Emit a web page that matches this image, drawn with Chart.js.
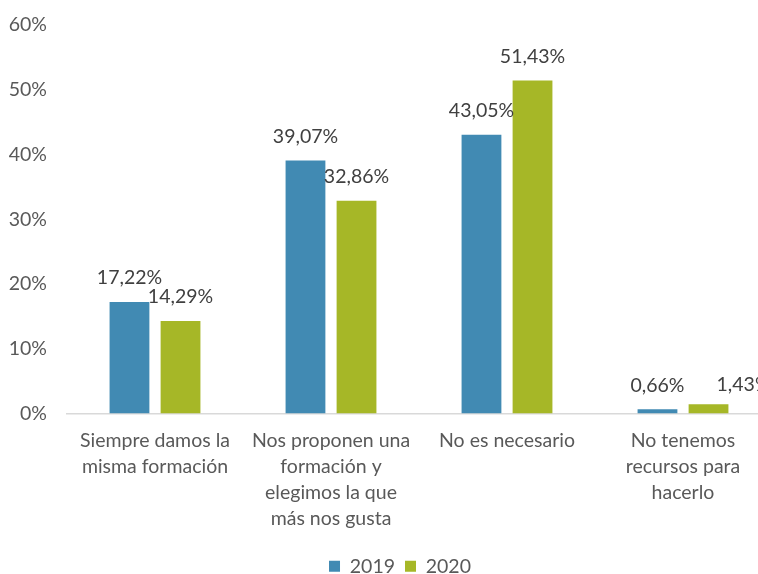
<!DOCTYPE html>
<html>
<head>
<meta charset="utf-8">
<script src="https://cdn.jsdelivr.net/npm/chart.js@4/dist/chart.umd.min.js"></script>
<style>
  html, body { margin: 0; padding: 0; background: #fff; overflow: hidden; }
  #wrap { width: 800px; height: 586px; }
</style>
</head>
<body>
<div id="wrap"><canvas id="chart"></canvas></div>
<script>
// data
const categories = [
    ['Siempre damos la', 'misma formación'],
    ['Nos proponen una', 'formación y', 'elegimos la que', 'más nos gusta'],
    'No es necesario',
    ['No tenemos', 'recursos para', 'hacerlo']
];
const seriesNames = ['2019', '2020'];
const values2019 = [17.22, 39.07, 43.05, 0.66];
const values2020 = [14.29, 32.86, 51.43, 1.43];
const yTicks = [0, 10, 20, 30, 40, 50, 60];

const FONT = 'Lato, "Open Sans", "Noto Sans", sans-serif';
const fmt = v => v.toFixed(2).replace('.', ',') + '%';

// draws the value above each bar
const barLabels = {
    id: 'barLabels',
    afterDatasetsDraw(chart) {
        const ctx = chart.ctx;
        ctx.save();
        ctx.font = '19.5px ' + FONT;
        ctx.fillStyle = '#404040';
        ctx.textAlign = 'center';
        ctx.textBaseline = 'middle';
        chart.data.datasets.forEach((ds, i) => {
            chart.getDatasetMeta(i).data.forEach((bar, j) => {
                let dx = 0, dy = 0;
                // the last 2020 label was dragged to the right in the original
                if (i === 1 && j === 3) { dx = 35; dy = 4; }
                ctx.fillText(fmt(ds.data[j]), bar.x + dx, bar.y - 24 + dy);
            });
        });
        ctx.restore();
    }
};

new Chart(document.getElementById('chart'), {
    type: 'bar',
    data: {
        labels: categories,
        datasets: [
            { label: seriesNames[0], data: values2019, backgroundColor: '#418AB3' },
            { label: seriesNames[1], data: values2020, backgroundColor: '#A6B727' }
        ]
    },
    options: {
        responsive: true,
        maintainAspectRatio: false,
        animation: false,
        categoryPercentage: 0.58,
        barPercentage: 0.78,
        layout: { padding: { top: 25, right: 0, bottom: 0, left: 0 } },
        plugins: {
            tooltip: { enabled: false },
            legend: {
                position: 'bottom',
                labels: {
                    boxWidth: 11,
                    boxHeight: 11,
                    padding: 10,
                    color: '#595959',
                    font: { family: FONT, size: 19.5 }
                }
            }
        },
        scales: {
            x: {
                grid: { display: false },
                border: { display: true, color: '#D9D9D9', width: 1.5 },
                ticks: {
                    color: '#595959',
                    font: { family: FONT, size: 19.5, lineHeight: 1.33 },
                    padding: 6,
                    maxRotation: 0,
                    autoSkip: false
                },
                afterFit(scale) { scale.height = 133; }
            },
            y: {
                min: 0,
                max: 60,
                afterBuildTicks(scale) { scale.ticks = yTicks.map(v => ({ value: v })); },
                grid: { display: false, drawTicks: false },
                border: { display: false },
                ticks: {
                    color: '#595959',
                    font: { family: FONT, size: 19.5 },
                    padding: 20,
                    callback: v => v + '%'
                },
                afterFit(scale) {
                    scale.width = 67;
                    scale.paddingTop = 0;
                    scale.paddingBottom = 0;
                }
            },
            // empty right-hand axis, only reserves the space past the last category
            yRight: {
                position: 'right',
                min: 0,
                max: 60,
                grid: { display: false, drawTicks: false },
                border: { display: false },
                ticks: { display: false },
                afterFit(scale) {
                    scale.width = 29;
                    scale.paddingTop = 0;
                    scale.paddingBottom = 0;
                }
            }
        }
    },
    plugins: [barLabels]
});
</script>
</body>
</html>
